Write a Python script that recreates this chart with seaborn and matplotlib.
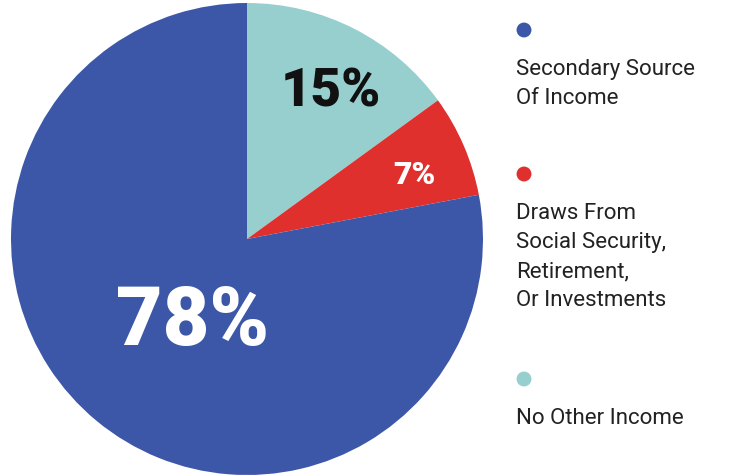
import matplotlib
matplotlib.use("Agg")
import matplotlib.pyplot as plt
import seaborn as sns
import numpy as np

# Share of households by income situation
categories = ["No Other Income", "Draws From\nSocial Security,\nRetirement,\nOr Investments",
              "Secondary Source\nOf Income"]
values = [15, 7, 78]
colors = ["#97cfcf", "#e0302e", "#3d57a8"]
label_colors = ["#111111", "white", "white"]
label_sizes = [38, 23, 58]

sns.set_theme(style="white")
plt.rcParams["font.family"] = ["Roboto", "DejaVu Sans"]

W, H = 731, 477
fig = plt.figure(figsize=(W / 100, H / 100), dpi=100)
fig.patch.set_facecolor("white")

# Pie axes placed in pixel units
cx, cy, r = 247, 240, 236
ax = fig.add_axes([(cx - r) / W, 1 - (cy + r) / H, 2 * r / W, 2 * r / H])
wedges, _ = ax.pie(values, colors=colors, startangle=90, counterclock=False,
                   radius=1.0, wedgeprops=dict(linewidth=0))
ax.set_xlim(-1, 1)
ax.set_ylim(-1, 1)
ax.set_aspect("equal")
ax.axis("off")

# Percentage labels: radius and angular nudge relative to each wedge's bisector
label_r = [0.72, 0.76, 0.42]
label_nudge = [-2.5, -2.0, 6.0]
for w, v, c, s, lr, dn in zip(wedges, values, label_colors, label_sizes, label_r, label_nudge):
    ang = np.deg2rad((w.theta1 + w.theta2) / 2 + dn)
    ax.text(lr * np.cos(ang), lr * np.sin(ang), f"{v}%", ha="center", va="center",
            color=c, fontsize=s, fontweight="black")

# Legend: coloured dot above each wrapped label
lax = fig.add_axes([0, 0, 1, 1])
lax.set_xlim(0, W)
lax.set_ylim(H, 0)
lax.axis("off")
order = [2, 1, 0]
dot_y = [31, 175, 380]
for i, y in zip(order, dot_y):
    lax.scatter([524], [y], s=115, color=colors[i], edgecolor="none")
    lax.text(516, y + 28, categories[i], ha="left", va="top", fontsize=16,
             color="#222222", linespacing=1.5)

fig.savefig("out.png", dpi=100, facecolor="white")
